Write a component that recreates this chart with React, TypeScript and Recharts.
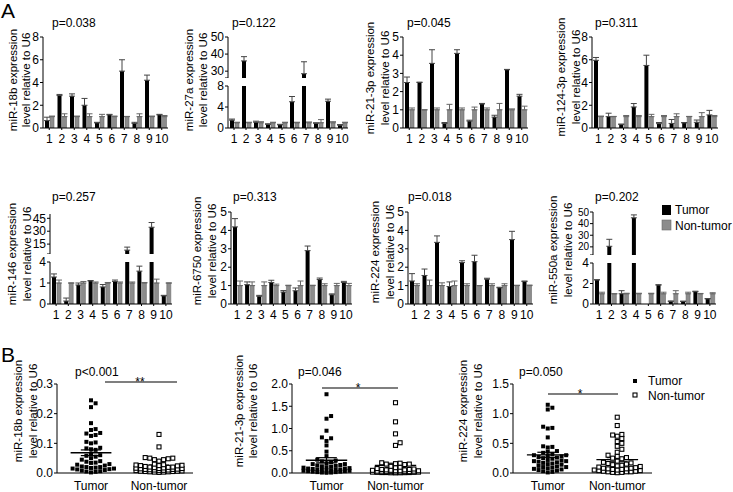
import React from 'react';
import {
  Bar,
  BarChart,
  ErrorBar,
  ReferenceLine,
  Scatter,
  ScatterChart,
  XAxis,
  YAxis,
} from 'recharts';

const FONT = '"Liberation Sans", Arial, sans-serif';

// ---- panel A: paired bars, 10 cases, mean + SEM ----
const caseLabels = ['1', '2', '3', '4', '5', '6', '7', '8', '9', '10'];
const nonTumorLevel = [1, 1, 1, 1, 1, 1, 1, 1, 1, 1];

const tumor18b = [0.65, 2.85, 2.8, 2.0, 0.45, 1.15, 5.0, 0.4, 4.2, 1.15];
const tumor18bSem = [0.3, 0.1, 0.2, 0.6, 0.05, 0.05, 1.0, 0.1, 0.45, 0.05];
const normal18bSem = [0.05, 0.25, 0.05, 0.25, 0.2, 0.05, 0.02, 0.25, 0.05, 0.1];

const tumor27a = [1.5, 36, 1.1, 0.7, 0.6, 5.0, 28.5, 0.9, 5.1, 0.55];
const tumor27aSem = [0.2, 2.5, 0.2, 0.1, 0.1, 1.0, 7, 0.1, 0.4, 0.1];
const normal27aSem = [0.1, 0.1, 0.2, 0.1, 0.1, 0.1, 0.15, 0.6, 0.2, 0.1];

const tumor21 = [2.5, 2.5, 3.55, 0.25, 4.1, 0.38, 1.32, 0.6, 3.2, 1.75];
const tumor21Sem = [0.3, 0.02, 0.75, 0.05, 0.2, 0.05, 0.03, 0.1, 0.02, 0.1];
const normal21Sem = [0.1, 0, 0.1, 0.3, 0.1, 0.15, 0.1, 0.35, 0.05, 0.2];

const tumor124 = [5.95, 1.0, 0.3, 1.85, 5.5, 0.38, 0.4, 0.45, 0.5, 1.15];
const tumor124Sem = [0.25, 0.3, 0.05, 0.3, 0.9, 0.1, 0.35, 0.03, 0.2, 0.4];
const normal124Sem = [0.05, 0.02, 0.1, 0.1, 0.2, 0.1, 0.25, 0.02, 0.35, 0.1];

const tumor146 = [1.65, 0.02, 0.82, 1.2, 0.66, 1.15, 8, 2.45, 34.6, 0.15];
const tumor146Sem = [0.4, 0.06, 0.18, 0.05, 0.2, 0.15, 3.5, 0.8, 5.5, 0.02];
const normal146Sem = [0.3, 0, 0.15, 0.1, 0.05, 0.1, 0.1, 0.05, 0.4, 0];

const tumor6750 = [4.19, 1.05, 0.42, 1.17, 0.65, 0.72, 2.9, 1.33, 0.5, 1.17];
const tumor6750Sem = [0.45, 0.15, 0.05, 0.12, 0.08, 0.15, 0.25, 0.08, 0.05, 0.06];
const normal6750Sem = [0.25, 0.2, 0.2, 0.08, 0.02, 0.25, 0.02, 0.1, 0.12, 0.12];

const tumor224 = [1.25, 1.55, 3.35, 0.95, 2.25, 2.3, 1.35, 0.88, 3.5, 1.22];
const tumor224Sem = [0.4, 0.35, 0.35, 0.25, 0.1, 0.35, 0.05, 0.03, 0.45, 0.03];
const normal224Sem = [0.1, 0.3, 0.15, 0.25, 0.1, 0, 0.1, 0.1, 0.02, 0.03];

const tumor550 = [2.35, 20.5, 1.0, 45, 0, 1.85, 0.25, 0.25, 1.2, 0.5];
const tumor550Sem = [0.02, 6, 0.3, 2.5, 0, 0.03, 0.05, 0.03, 0.05, 0.03];
const normal550Sem = [0.15, 0, 0.05, 0.05, 0.05, 0.15, 0.3, 0.15, 0.03, 0.1];

// ---- panel B: individual samples ----
const groupLabels = ['Tumor', 'Non-tumor'];

const b18bTumor = [
  0.245, 0.235, 0.222, 0.168, 0.148, 0.145, 0.135, 0.133, 0.128, 0.125, 0.105, 0.103, 0.1, 0.085,
  0.083, 0.08, 0.078, 0.065, 0.06, 0.058, 0.055, 0.05, 0.045, 0.04, 0.038, 0.035, 0.034, 0.03,
  0.028, 0.025, 0.022, 0.02, 0.02, 0.018, 0.017, 0.015, 0.015, 0.013, 0.012, 0.01, 0.008, 0.006,
  0.005, 0.004, 0.002,
];
const b18bNormal = [
  0.13, 0.088, 0.052, 0.05, 0.05, 0.048, 0.045, 0.045, 0.04, 0.03, 0.028, 0.027, 0.026, 0.025,
  0.025, 0.024, 0.022, 0.02, 0.02, 0.019, 0.018, 0.017, 0.016, 0.015, 0.015, 0.014, 0.013, 0.012,
  0.012, 0.011, 0.01, 0.01, 0.009, 0.008, 0.008, 0.007, 0.006, 0.006, 0.005, 0.005, 0.004, 0.004,
  0.003, 0.003, 0.002,
];
const b21Tumor = [
  1.77, 1.28, 1.22, 0.95, 0.8, 0.78, 0.72, 0.62, 0.48, 0.38, 0.3, 0.28, 0.26, 0.24, 0.22, 0.2, 0.2,
  0.18, 0.17, 0.16, 0.15, 0.14, 0.13, 0.12, 0.11, 0.1, 0.1, 0.09, 0.08, 0.08, 0.07, 0.07, 0.06,
  0.06, 0.05, 0.05, 0.04, 0.04, 0.03, 0.03, 0.02, 0.02, 0.01, 0.01, 0.005,
];
const b21Normal = [
  1.58, 1.15, 0.88, 0.68, 0.62, 0.23, 0.22, 0.21, 0.2, 0.2, 0.19, 0.15, 0.13, 0.12, 0.1, 0.09,
  0.08, 0.08, 0.07, 0.07, 0.06, 0.06, 0.05, 0.05, 0.05, 0.04, 0.04, 0.04, 0.03, 0.03, 0.03, 0.03,
  0.02, 0.02, 0.02, 0.02, 0.015, 0.015, 0.01, 0.01, 0.01, 0.008, 0.005, 0.005, 0.003,
];
const b224Tumor = [
  1.15, 1.1, 1.07, 0.78, 0.76, 0.75, 0.6, 0.45, 0.44, 0.43, 0.37, 0.36, 0.34, 0.32, 0.3, 0.3, 0.29,
  0.28, 0.27, 0.26, 0.25, 0.24, 0.22, 0.21, 0.2, 0.2, 0.19, 0.18, 0.17, 0.16, 0.15, 0.14, 0.12,
  0.11, 0.1, 0.1, 0.09, 0.08, 0.07, 0.06, 0.05, 0.04, 0.03, 0.02, 0.01,
];
const b224Normal = [
  0.94, 0.8, 0.65, 0.64, 0.62, 0.58, 0.53, 0.5, 0.45, 0.4, 0.35, 0.3, 0.28, 0.26, 0.25, 0.24, 0.2,
  0.18, 0.17, 0.16, 0.15, 0.14, 0.13, 0.12, 0.11, 0.1, 0.09, 0.08, 0.08, 0.07, 0.07, 0.06, 0.06,
  0.05, 0.05, 0.04, 0.04, 0.03, 0.03, 0.02, 0.02, 0.02, 0.01, 0.01, 0.005,
];

const tickStyle = { fill: '#000', fontSize: 12, fontFamily: FONT };
const axisStroke = { stroke: '#000', strokeWidth: 1 };

type Seg = {
  top: number;
  bottom: number;
  domain: [number, number];
  ticks: number[];
  scale?: 'linear' | 'sqrt';
  breakTick?: boolean;
  fontSize?: number;
};

type BarPanelProps = {
  x0: number;
  x1: number;
  segs: Seg[];
  tumor: number[];
  tumorSem: number[];
  normalSem: number[];
};

const YW = 40;

function BarPanel({ x0, x1, segs, tumor, tumorSem, normalSem }: BarPanelProps) {
  return (
    <>
      {segs.map((s, k) => {
        const last = k === segs.length - 1;
        // upper pieces of a broken axis only show the bars that reach them
        const keep = (v: number) => (last || v > s.domain[0] ? v : null);
        const rows = caseLabels.map((c, i) => ({
          c,
          t: keep(tumor[i]),
          te: tumorSem[i],
          n: keep(nonTumorLevel[i]),
          ne: normalSem[i],
        }));
        const mt = 8;
        const xh = last ? 24 : 0;
        return (
          <div key={k} style={{ position: 'absolute', left: x0 - YW, top: s.top - mt }}>
            <BarChart
              width={x1 - x0 + YW + 4}
              height={mt + (s.bottom - s.top) + xh}
              data={rows}
              margin={{ top: mt, right: 4, bottom: 0, left: 0 }}
              barSize={4}
              barGap={1}
            >
              <XAxis
                dataKey="c"
                hide={!last}
                height={xh}
                interval={0}
                tick={tickStyle}
                tickSize={2}
                tickMargin={4}
                axisLine={axisStroke}
                tickLine={axisStroke}
              />
              <YAxis
                width={YW}
                type="number"
                scale={s.scale ?? 'linear'}
                domain={s.domain}
                ticks={s.ticks}
                allowDataOverflow
                interval={0}
                tick={{ ...tickStyle, fontSize: s.fontSize ?? 12 }}
                tickSize={3}
                tickMargin={1}
                axisLine={axisStroke}
                tickLine={axisStroke}
                tickFormatter={(v: number) => (s.breakTick && v === s.domain[0] ? '' : String(v))}
              />
              <Bar dataKey="t" fill="#000" isAnimationActive={false}>
                <ErrorBar
                  dataKey={(d: { te: number }) => [0, d.te]}
                  width={3}
                  stroke="#444"
                  strokeWidth={1}
                  direction="y"
                />
              </Bar>
              <Bar dataKey="n" fill="#8c8c8c" stroke="#6a6a6a" strokeWidth={0.6} isAnimationActive={false}>
                <ErrorBar
                  dataKey={(d: { ne: number }) => [0, d.ne]}
                  width={3}
                  stroke="#666"
                  strokeWidth={1}
                  direction="y"
                />
              </Bar>
            </BarChart>
          </div>
        );
      })}
    </>
  );
}

// spread the samples sideways so they do not overlap (column scatter)
function swarm(values: number[], center: number, pxX: number, pxY: number) {
  const step = 4.6;
  const minGap = 4;
  const maxOff = 26;
  const slots = Math.floor(maxOff / step);
  const placed: { x: number; y: number }[] = [];
  return [...values]
    .sort((a, b) => a - b)
    .map((v) => {
      const py = v * pxY;
      let best = 0;
      let bestGap = -1;
      for (let k = 0; k <= 2 * slots; k++) {
        const off = k === 0 ? 0 : (k % 2 ? 1 : -1) * Math.ceil(k / 2) * step;
        const near = placed.filter((p) => Math.abs(p.x - off) < step - 0.1);
        const gap = near.length ? Math.min(...near.map((p) => Math.abs(p.y - py))) : Infinity;
        if (gap >= minGap) {
          best = off;
          break;
        }
        if (gap > bestGap) {
          bestGap = gap;
          best = off;
        }
      }
      placed.push({ x: best, y: py });
      return { x: center + best / pxX, y: v };
    });
}

function meanSem(values: number[]) {
  const m = values.reduce((a, b) => a + b, 0) / values.length;
  const sd = Math.sqrt(values.reduce((a, b) => a + (b - m) * (b - m), 0) / (values.length - 1));
  return { m, sem: sd / Math.sqrt(values.length) };
}

type ScatterPanelProps = {
  x0: number;
  x1: number;
  top: number;
  bottom: number;
  ymax: number;
  ticks: number[];
  tumor: number[];
  normal: number[];
};

function ScatterPanel({ x0, x1, top, bottom, ymax, ticks, tumor, normal }: ScatterPanelProps) {
  const mt = 8;
  const xh = 24;
  const pxX = (x1 - x0) / 2;
  const pxY = (bottom - top) / ymax;
  const groups = [tumor, normal];
  const pts = groups.map((g, i) => swarm(g, i + 0.5, pxX, pxY));
  const stats = groups.map(meanSem);
  return (
    <div style={{ position: 'absolute', left: x0 - YW, top: top - mt }}>
      <ScatterChart
        width={x1 - x0 + YW + 4}
        height={mt + (bottom - top) + xh}
        margin={{ top: mt, right: 4, bottom: 0, left: 0 }}
      >
        <XAxis
          type="number"
          dataKey="x"
          domain={[0, 2]}
          ticks={[0.5, 1.5]}
          height={xh}
          interval={0}
          tick={tickStyle}
          tickLine={false}
          tickSize={3}
          tickMargin={5}
          axisLine={axisStroke}
          tickFormatter={(v: number) => groupLabels[v < 1 ? 0 : 1]}
        />
        <YAxis
          type="number"
          dataKey="y"
          width={YW}
          domain={[0, ymax]}
          ticks={ticks}
          interval={0}
          tick={tickStyle}
          tickSize={3}
          tickMargin={1}
          axisLine={axisStroke}
          tickLine={axisStroke}
          tickFormatter={(v: number) => v.toFixed(1)}
        />
        <Scatter
          data={pts[0]}
          isAnimationActive={false}
          shape={(p: { cx: number; cy: number }) => (
            <rect x={p.cx - 2} y={p.cy - 2} width={4} height={4} fill="#000" />
          )}
        />
        <Scatter
          data={pts[1]}
          isAnimationActive={false}
          shape={(p: { cx: number; cy: number }) => (
            <rect x={p.cx - 2} y={p.cy - 2} width={4} height={4} fill="#fff" stroke="#000" strokeWidth={1.1} />
          )}
        />
        {stats.map((s, i) => {
          const c = i + 0.5;
          return (
            <React.Fragment key={i}>
              <ReferenceLine segment={[{ x: c - 0.3, y: s.m }, { x: c + 0.3, y: s.m }]} stroke="#000" strokeWidth={1.3} />
              <ReferenceLine segment={[{ x: c - 0.15, y: s.m + s.sem }, { x: c + 0.15, y: s.m + s.sem }]} stroke="#000" strokeWidth={1.2} />
              <ReferenceLine segment={[{ x: c - 0.15, y: s.m - s.sem }, { x: c + 0.15, y: s.m - s.sem }]} stroke="#000" strokeWidth={1.2} />
              <ReferenceLine segment={[{ x: c, y: s.m - s.sem }, { x: c, y: s.m + s.sem }]} stroke="#000" strokeWidth={1.2} />
            </React.Fragment>
          );
        })}
      </ScatterChart>
    </div>
  );
}

function Title({ x, y, lines }: { x: number[]; y: number; lines: string[] }) {
  return (
    <>
      {lines.map((l, i) => (
        <text
          key={i}
          x={x[i]}
          y={y}
          transform={`rotate(-90 ${x[i]} ${y})`}
          textAnchor="middle"
          dominantBaseline="central"
          fontSize={11.5}
        >
          {l}
        </text>
      ))}
    </>
  );
}

export default function App() {
  const lvl = 'level relative to U6';
  return (
    <div
      style={{
        position: 'absolute',
        left: 0,
        top: 0,
        width: 733,
        height: 492,
        background: '#fff',
        overflow: 'hidden',
        fontFamily: FONT,
      }}
    >
      <BarPanel x0={43} x1={168} segs={[{ top: 37, bottom: 128, domain: [0, 8], ticks: [0, 2, 4, 6, 8] }]}
        tumor={tumor18b} tumorSem={tumor18bSem} normalSem={normal18bSem} />
      <BarPanel x0={228} x1={348}
        segs={[
          { top: 37, bottom: 78, domain: [26, 50], ticks: [26, 30, 40, 50], breakTick: true },
          { top: 86, bottom: 128, domain: [0, 8], ticks: [0, 4, 8] },
        ]}
        tumor={tumor27a} tumorSem={tumor27aSem} normalSem={normal27aSem} />
      <BarPanel x0={403} x1={528} segs={[{ top: 37, bottom: 128, domain: [0, 5], ticks: [0, 1, 2, 3, 4, 5] }]}
        tumor={tumor21} tumorSem={tumor21Sem} normalSem={normal21Sem} />
      <BarPanel x0={592} x1={718} segs={[{ top: 37, bottom: 128, domain: [0, 8], ticks: [0, 2, 4, 6, 8] }]}
        tumor={tumor124} tumorSem={tumor124Sem} normalSem={normal124Sem} />

      <BarPanel x0={50} x1={172}
        segs={[
          { top: 214, bottom: 254, domain: [3.5, 50], ticks: [3.5, 15, 30, 45], breakTick: true },
          { top: 262, bottom: 304, domain: [0, 4], ticks: [0, 1, 4], scale: 'sqrt' },
        ]}
        tumor={tumor146} tumorSem={tumor146Sem} normalSem={normal146Sem} />
      <BarPanel x0={231} x1={352} segs={[{ top: 212, bottom: 304, domain: [0, 5], ticks: [0, 1, 2, 3, 4, 5] }]}
        tumor={tumor6750} tumorSem={tumor6750Sem} normalSem={normal6750Sem} />
      <BarPanel x0={408} x1={533} segs={[{ top: 212, bottom: 304, domain: [0, 5], ticks: [0, 1, 2, 3, 4, 5] }]}
        tumor={tumor224} tumorSem={tumor224Sem} normalSem={normal224Sem} />
      <BarPanel x0={593} x1={716}
        segs={[
          { top: 212, bottom: 255, domain: [13, 50], ticks: [13, 20, 30, 40, 50], breakTick: true, fontSize: 10 },
          { top: 263, bottom: 304, domain: [0, 4], ticks: [0, 2, 4] },
        ]}
        tumor={tumor550} tumorSem={tumor550Sem} normalSem={normal550Sem} />

      <ScatterPanel x0={57} x1={193} top={384} bottom={473} ymax={0.3} ticks={[0, 0.1, 0.2, 0.3]}
        tumor={b18bTumor} normal={b18bNormal} />
      <ScatterPanel x0={292} x1={430} top={384} bottom={473} ymax={2} ticks={[0, 0.5, 1, 1.5, 2]}
        tumor={b21Tumor} normal={b21Normal} />
      <ScatterPanel x0={513} x1={652} top={384} bottom={473} ymax={1.5} ticks={[0, 0.5, 1, 1.5]}
        tumor={b224Tumor} normal={b224Normal} />

      <svg
        width={733}
        height={492}
        style={{ position: 'absolute', left: 0, top: 0, pointerEvents: 'none' }}
        fontFamily={FONT}
        fill="#000"
      >
        <text x={1} y={18} fontSize={21}>A</text>
        <text x={1} y={362} fontSize={21}>B</text>

        <text x={52} y={27} fontSize={12}>p=0.038</text>
        <text x={232} y={27} fontSize={12}>p=0.122</text>
        <text x={407} y={27} fontSize={12}>p=0.045</text>
        <text x={595} y={27} fontSize={12}>p=0.311</text>
        <text x={52} y={201} fontSize={12}>p=0.257</text>
        <text x={233} y={201} fontSize={12}>p=0.313</text>
        <text x={408} y={201} fontSize={12}>p=0.018</text>
        <text x={595} y={201} fontSize={12}>p=0.202</text>
        <text x={75} y={376} fontSize={12}>p&lt;0.001</text>
        <text x={298} y={376} fontSize={12}>p=0.046</text>
        <text x={519} y={376} fontSize={12}>p=0.050</text>

        <Title x={[13, 26]} y={80} lines={['miR-18b expression', lvl]} />
        <Title x={[189, 203]} y={80} lines={['miR-27a expression', lvl]} />
        <Title x={[370, 385]} y={78} lines={['miR-21-3p expression', lvl]} />
        <Title x={[561, 576]} y={77} lines={['miR-124-3p expression', lvl]} />
        <Title x={[12, 27]} y={254} lines={['miR-146 expression', lvl]} />
        <Title x={[197, 212]} y={251} lines={['miR-6750 expression', lvl]} />
        <Title x={[375, 390]} y={252} lines={['miR-224 expression', lvl]} />
        <Title x={[553, 568]} y={250} lines={['miR-550a expression', lvl]} />
        <Title x={[18, 33]} y={411} lines={['miR-18b expression', lvl]} />
        <Title x={[239, 253]} y={411} lines={['miR-21-3p expression', lvl]} />
        <Title x={[463, 478]} y={411} lines={['miR-224 expression', lvl]} />

        <rect x={662} y={205} width={9} height={10} fill="#000" />
        <text x={675} y={214} fontSize={12}>Tumor</text>
        <rect x={662} y={220} width={9} height={10} fill="#8c8c8c" stroke="#6a6a6a" strokeWidth={0.6} />
        <text x={675} y={230} fontSize={12}>Non-tumor</text>

        <line x1={105} x2={177} y1={382} y2={382} stroke="#000" strokeWidth={1.2} />
        <text x={140} y={386} fontSize={12} textAnchor="middle">**</text>
        <line x1={322} x2={398} y1={388} y2={388} stroke="#000" strokeWidth={1.2} />
        <text x={358} y={392} fontSize={12} textAnchor="middle">*</text>
        <line x1={548} x2={618} y1={394} y2={394} stroke="#000" strokeWidth={1.2} />
        <text x={580} y={398} fontSize={12} textAnchor="middle">*</text>

        <rect x={633} y={379} width={4} height={4} fill="#000" />
        <text x={648} y={385} fontSize={12}>Tumor</text>
        <rect x={633} y={393} width={4} height={4} fill="#fff" stroke="#000" strokeWidth={1.1} />
        <text x={648} y={400} fontSize={12}>Non-tumor</text>
      </svg>
    </div>
  );
}
